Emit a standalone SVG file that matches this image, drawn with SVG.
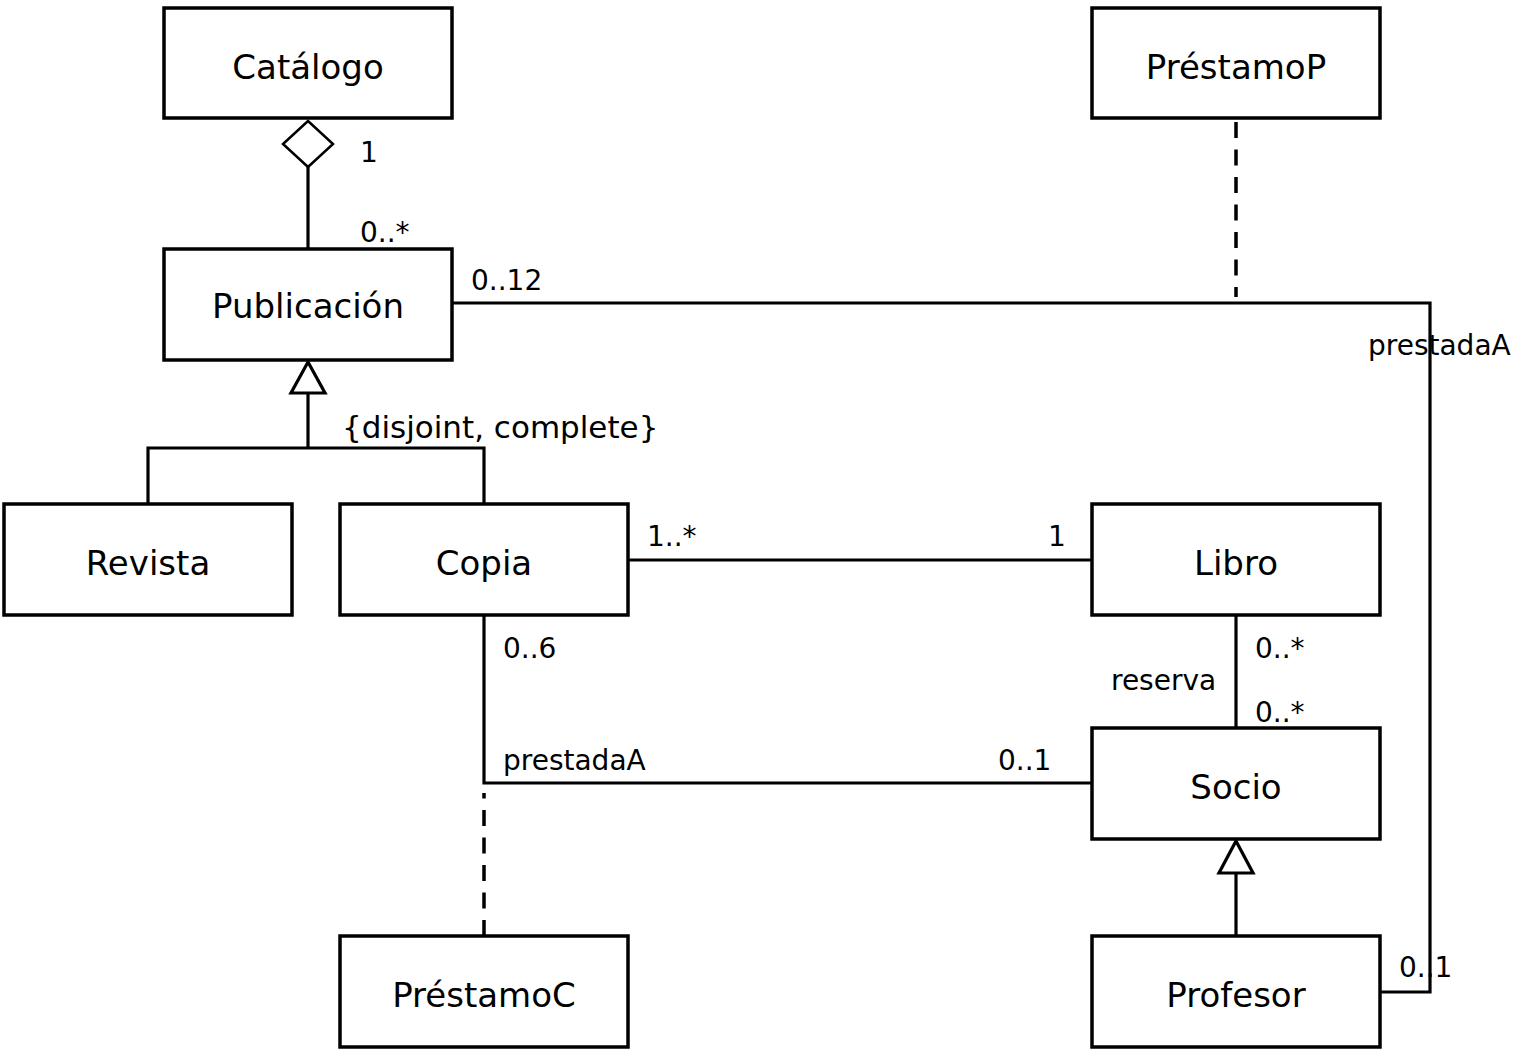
<svg xmlns="http://www.w3.org/2000/svg" width="1518" height="1052" viewBox="0 0 1518 1052">
<style>
.box{fill:#fff;stroke:#000;stroke-width:3.5}
.name{font-family:"DejaVu Sans",sans-serif;font-size:34px;text-anchor:middle;fill:#000}
.lbl{font-family:"DejaVu Sans",sans-serif;font-size:28px;fill:#000}
.ln{fill:none;stroke:#000;stroke-width:3.2}
.dash{fill:none;stroke:#000;stroke-width:3.5;stroke-dasharray:16 11.5}
.tri{fill:#fff;stroke:#000;stroke-width:3.2}
</style>
<rect width="1518" height="1052" fill="#fff"/>
<g id="connectors">
<line class="ln" x1="308" y1="167" x2="308" y2="249"/>
<polygon class="tri" points="308,121 333,144 308,167 283,144" style="stroke-width:2.5"/>
<polyline class="ln" points="308,393 308,448"/>
<polyline class="ln" points="148,504 148,448 484,448 484,504"/>
<polygon class="tri" points="308,362 325,393 291,393"/>
<polyline class="ln" points="452,303 1430,303 1430,992 1380,992"/>
<line class="dash" x1="1236" y1="122" x2="1236" y2="297"/>
<line class="ln" x1="628" y1="560" x2="1092" y2="560"/>
<line class="ln" x1="1236" y1="615" x2="1236" y2="728"/>
<polyline class="ln" points="484,615 484,783 1092,783"/>
<line class="dash" x1="484" y1="936" x2="484" y2="793"/>
<line class="ln" x1="1236" y1="873" x2="1236" y2="936"/>
<polygon class="tri" points="1236,841 1253,873 1219,873"/>
<text class="lbl" x="360" y="162">1</text>
<text class="lbl" x="360" y="242">0..*</text>
<text class="lbl" x="342" y="438" style="font-size:31px">{disjoint, complete}</text>
<text class="lbl" x="471" y="290">0..12</text>
<text class="lbl" x="1368" y="355">prestadaA</text>
<text class="lbl" x="1399" y="977">0..1</text>
<text class="lbl" x="647" y="546">1..*</text>
<text class="lbl" x="1048" y="546">1</text>
<text class="lbl" x="1255" y="658">0..*</text>
<text class="lbl" x="1111" y="690">reserva</text>
<text class="lbl" x="1255" y="722">0..*</text>
<text class="lbl" x="503" y="658">0..6</text>
<text class="lbl" x="503" y="770">prestadaA</text>
<text class="lbl" x="998" y="770">0..1</text>
</g>
<g id="catalogo"><rect class="box" x="164" y="8" width="288" height="110"/><text class="name" x="308" y="79">Catálogo</text></g>
<g id="prestamoP"><rect class="box" x="1092" y="8" width="288" height="110"/><text class="name" x="1236" y="79">PréstamoP</text></g>
<g id="publicacion"><rect class="box" x="164" y="249" width="288" height="111"/><text class="name" x="308" y="318">Publicación</text></g>
<g id="revista"><rect class="box" x="4" y="504" width="288" height="111"/><text class="name" x="148" y="575">Revista</text></g>
<g id="copia"><rect class="box" x="340" y="504" width="288" height="111"/><text class="name" x="484" y="575">Copia</text></g>
<g id="libro"><rect class="box" x="1092" y="504" width="288" height="111"/><text class="name" x="1236" y="575">Libro</text></g>
<g id="socio"><rect class="box" x="1092" y="728" width="288" height="111"/><text class="name" x="1236" y="799">Socio</text></g>
<g id="prestamoC"><rect class="box" x="340" y="936" width="288" height="111"/><text class="name" x="484" y="1007">PréstamoC</text></g>
<g id="profesor"><rect class="box" x="1092" y="936" width="288" height="111"/><text class="name" x="1236" y="1007">Profesor</text></g>
</svg>
